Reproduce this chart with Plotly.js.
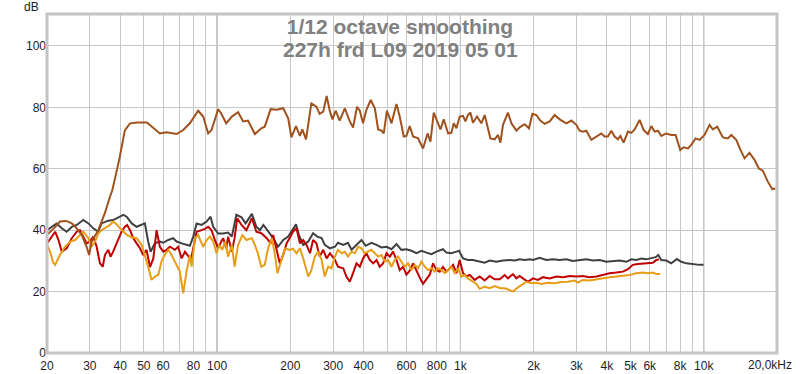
<!DOCTYPE html>
<html>
<head>
<meta charset="utf-8">
<script src="https://cdn.plot.ly/plotly-3.0.1.min.js"></script>
<style>html,body{margin:0;padding:0;background:#fff;}#chart{width:800px;height:374px;}</style>
</head>
<body>
<div id="chart"></div>
<script>
// ---- Data (frequency in Hz, level in dB) ----
const brownFreq = [
  20,21.3,22.6,24.0,25.3,26.5,27.8,29.1,29.8,30.5,
  32.5,34.6,36.3,37.1,39.6,40.5,41.8,43.9,46.9,51.5,
  53.8,58.2,62.0,68.2,72.6,77.3,83.6,87.7,91.9,94.9,
  101,104,109,115,122,128,134,143,152,157,
  166,176,187,196,202,211,219,224,232,244,
  256,264,273,282,291,298,307,319,335,349,
  362,376,386,398,411,428,445,459,474,484,
  499,521,546,563,585,600,619,639,670,692,
  702,733,753,777,802,828,854,890,918,939,
  963,993,1025,1048,1074,1099,1126,1170,1219,1258,
  1328,1383,1427,1460,1496,1568,1620,1698,1752,1837,
  1913,1976,2052,2130,2220,2327,2440,2558,2725,2857,
  2994,3090,3188,3292,3451,3618,3793,3914,4038,4170,
  4302,4439,4541,4685,4880,5039,5199,5451,5660,5893,
  6086,6280,6480,6691,7015,7355,7660,8008,8260,8604,
  8884,9254,9611,10076,10565,10900,11364,11982,12563,12972,
  13601,14124,14712,15417,16166,16840,17489,18334,19120,19720];
const brownDb = [
  38.5,40.5,42.8,43,42.2,40.6,38.4,34.6,31.9,36.3,
  40,45.6,50.9,53,62.9,67.2,72.6,74.8,75.1,75.1,
  73.7,71.5,71.9,71.3,72.6,74.8,78.9,77,71.5,72.6,
  79.4,78,74.8,77,78.4,75.4,75.7,71.3,73.2,73.7,
  79.4,79.2,79.7,76.4,70.2,73.9,70.7,72.8,69.6,81.3,
  80.2,77.9,78.6,83.7,78.6,76.1,78.9,75.7,79.7,75.9,
  73.4,80.2,78.9,74.8,79.2,82.4,79.7,72.8,72.4,71.5,
  78.9,74.8,81.1,77,70.5,70.7,73.9,70.5,69.9,67.2,
  66.6,71.5,68.8,78.3,75.4,72.8,76.1,71.5,71.7,74.8,
  73.2,77,77.2,75.4,77.5,78.3,75,77,74.8,77.5,
  69.9,69.6,71,68.5,74.3,78.3,74.8,72.4,73.5,74.5,
  73.2,77.9,77.5,75.7,74.6,75.4,77.5,76.1,74.8,75.7,
  74.3,72.4,72.1,72.4,69.4,70.5,71.5,70.5,70.5,72.4,
  70.5,69.6,70.7,68.5,72.1,71.7,72.8,75.9,72.6,71.3,
  73.9,72.1,72.4,70.7,71.5,71,71,66.1,67,66.6,
  67.8,69.9,69.4,71,74.3,72.8,73.7,70.2,69.9,71,
  69.4,66.3,63.4,65.2,62.9,60.1,59.4,55.8,53.4,53.6];

const grayFreq = [
  20,21.9,23.0,24.1,25.3,26.5,28.2,29.6,31.0,32.5,
  33.5,35.7,37.4,39.3,41.2,42.5,44.6,46.7,49.0,50.5,
  52.1,53.3,55.5,58.2,60.1,63.0,66.0,68.2,71.5,74.9,
  77.3,79.8,82.4,86.4,90.6,94.0,96.4,101,106,111,
  115,120,126,131,139,145,150,155,162,170,
  178,187,196,202,211,217,226,237,248,258,
  269,277,291,305,314,330,345,357,374,392,
  408,431,452,474,497,521,546,572,600,629,
  660,692,725,760,797,848,876,918,963,987,
  1025,1074,1126,1200,1258,1319,1406,1496,1594,1671,
  1752,1837,1926,1987,2117,2255,2400,2558,2725,2900,
  3090,3292,3504,3733,3977,4234,4511,4806,5039,5283,
  5539,5807,6086,6341,6504,6691,7015,7355,7755,8085,
  8477,9023,9611,9980];
const grayDb = [
  40,42.2,40.6,39.5,41.1,41.7,43.3,42.2,40.6,39.5,
  42.2,43.1,43.3,44.2,45,44.4,42.2,41.1,41.7,42.2,
  36.3,33,35.7,36.3,35.9,36.8,37.4,36.3,35.7,35.2,
  34.9,37.9,42.2,41.7,42.8,44.4,41.1,38.9,38.9,39.2,
  37.9,45,44.2,42.2,45.3,41.1,40,41.7,39.5,37.4,
  34.6,36.8,37.9,39.5,41.9,38.4,35.2,36.3,39,37.9,
  37.4,35.2,34.1,34.6,35.9,35.2,35.9,33.6,35.2,36.8,
  34.9,35.9,35.2,34.4,34.6,33.8,35.5,33.6,33.8,33.3,
  32.5,33.3,32.7,32.2,33,33.8,32.7,32.5,33,33.3,
  30.8,30.3,30.3,29.7,29.4,30.1,29.7,30.1,30.3,30.1,
  30.5,30.3,30.5,30.3,31,30.3,30.5,30.3,30.5,30,
  30.3,30.5,30.1,30.3,29.7,30,30.1,29.7,30.5,30.3,
  30.8,30.5,30.8,31.2,31.9,30.3,30.1,29.2,30.6,29.7,
  29.2,28.9,28.7,28.7];

const redFreq = [
  20,20.9,21.6,22.3,23.0,24.1,25.3,26.5,27.3,28.2,
  29.1,30.0,31.0,32.0,33.0,33.9,34.6,35.7,36.5,37.4,
  39.3,40.5,41.8,42.7,43.9,45.2,46.7,48.2,49.7,51.3,
  53.0,54.7,56.4,58.2,60.1,62.0,64.0,67.1,69.2,71.5,
  73.8,76.1,78.1,79.8,82.4,86.4,89.1,91.9,94.9,97.3,
  101,104,106,109,111,115,118,121,126,132,
  139,145,152,160,166,170,176,181,187,193,
  199,205,212,219,226,233,241,248,256,264,
  273,282,291,305,314,330,340,351,362,374,
  386,398,411,424,438,452,466,481,497,513,
  529,546,563,581,600,619,639,660,681,702,
  725,748,772,797,822,848,876,904,933,963,
  993,1025,1059,1092,1145,1200,1258,1319,1383,1450,
  1521,1568,1644,1698,1752,1807,1895,1987,2083,2184,
  2327,2479,2639,2812,2994,3188,3396,3618,3852,4104,
  4372,4655,4880,5114,5362,5622,5893,6180,6383,6543];
const redDb = [
  35.7,37.9,39.5,36.8,33,34.1,37.4,39.5,40,37.9,
  35.7,36.3,37.9,34.6,29.2,28.1,31.9,33.6,31.4,33,
  37.4,39.5,41.1,41.7,40,37.4,35.7,34.1,31.9,33.6,
  28,30.8,40,34.6,33,33.6,34.6,33.6,34.6,30.8,
  33,31.4,30.3,34.1,39.5,40,40.4,41.1,40,37.4,
  34.1,36.3,37.4,34.1,37.9,33,37.4,43.9,41.7,40,
  43.9,39.5,39,37.4,35.7,38.4,33,29.2,32,35.7,
  37.5,39.5,40.6,35.7,36.8,35.2,32.5,36.8,35.7,31.4,
  33.6,30.8,32.5,30.3,28.1,27.6,24.9,23.2,26,29.2,
  28.1,30.8,32.5,30.3,29.2,30.3,28.1,29.2,32.5,31.4,
  33,30.3,27,28.1,25.5,26.8,29.2,26.5,24.5,22.5,
  24,25.5,29.2,27,26.5,28,26.5,27.6,28.7,26,
  30.3,26,25,25.4,23.8,24.9,23.6,25.1,24,24,
  25.4,24.3,25.7,24.3,25.1,24.3,23.2,24.3,23.8,24.7,
  24.3,24.9,24.7,25.1,24.9,25.1,24.7,24.9,25.4,26,
  26.2,26.5,27.3,28.7,29,29.2,29.4,29.4,30.3,30.5];

const orangeFreq = [
  20,20.6,21.2,21.6,22.6,23.7,24.9,26.1,27.3,28.2,
  29.6,30.5,31.5,32.5,33.5,34.6,36.3,37.4,38.9,39.9,
  41.4,42.7,44.6,46.7,49.0,51.0,52.1,53.8,55.5,57.3,
  59.2,61.0,63.0,65.0,68.2,70.3,72.6,74.9,77.3,78.6,
  81.1,83.6,85.8,87.7,90.6,93.4,96.4,99.5,102,105,
  108,111,115,118,122,127,132,139,143,147,
  152,157,162,168,173,177,183,190,199,205,
  212,219,226,233,237,244,252,260,269,277,
  286,295,305,314,325,335,345,357,368,380,
  392,404,417,431,445,459,474,489,504,521,
  537,554,572,591,609,629,649,670,692,714,
  736,760,784,809,836,862,890,918,948,978,
  1010,1042,1074,1110,1164,1200,1258,1319,1383,1450,
  1521,1594,1644,1724,1780,1867,1957,2052,2151,2290,
  2440,2599,2767,2948,3040,3188,3396,3618,3852,4104,
  4372,4655,4960,5283,5622,5893,6180,6383,6628];
const orangeDb = [
  35.2,33,29.5,28.7,31.9,34.6,36.3,36.8,38.4,39.5,
  37.4,34.6,36.3,38.9,40,40.6,41.7,42.8,41.7,40.6,
  39.5,38.4,37.7,37.4,35.2,30.8,28.1,23.8,24.9,25.4,
  30,32,33.6,31.9,28.5,26.5,19.4,26.5,31.9,28.1,
  37.4,38.4,36.3,34.6,36.8,37.9,36.3,32.5,35.2,33.6,
  36.3,31.4,35.2,28.1,35.2,38.4,36.8,37.4,35.2,32.5,
  28.1,28.7,34.1,37.4,31.9,26,29.7,34.1,33.6,34,
  32.5,34.1,30.8,27,24.9,27,31.4,33,30.3,24.9,
  28.1,27.6,31.4,33.6,32.5,33,31.4,33,32.5,34.6,
  34.1,32.5,33,33.6,32.5,31.4,31.9,29.7,30.3,28.1,
  30.3,31.4,29.7,28.1,29.2,27,28.7,27.6,29.7,28.1,
  27,27.6,26.5,27.6,27,26,27,28.1,26,27.6,
  24.9,25.4,24.3,23.6,22.5,20.9,21.6,21.1,21.8,21.2,
  21.1,20.5,20,21.4,22.1,23.2,22.7,22.9,22.5,22.9,
  22.7,23.1,23.2,23.6,22.9,23.8,23.6,24,24.3,24.7,
  24.9,25.1,25.4,26,26.2,26,26.2,25.7,25.7];

// ---- Axis ticks ----
const xGridVals = [20,30,40,50,60,70,80,90,100,200,300,400,500,600,700,800,900,1000,
  2000,3000,4000,5000,6000,7000,8000,9000,10000,20000];
const xTickText = ['20','30','40','50','60','','80','','100','200','300','400','','600','','800','','1k',
  '2k','3k','4k','5k','6k','','8k','','10k',''];
const decadeLines = [100,1000,10000];
const yTickVals = [0,20,40,60,80,100];
const titleLine1 = '1/12 octave smoothing';
const titleLine2 = '227h frd L09 2019 05 01';

const FONT = 'Liberation Sans, Arial, sans-serif';
function tr(x, y, color) {
  return {x: x, y: y, type: 'scatter', mode: 'lines', hoverinfo: 'skip',
          line: {color: color, width: 2}, showlegend: false};
}
const traces = [
  tr(grayFreq, grayDb, '#404040'),
  tr(redFreq, redDb, '#c00000'),
  tr(orangeFreq, orangeDb, '#e89d17'),
  tr(brownFreq, brownDb, '#a0521e')
];

const shapes = decadeLines.map(v => ({type: 'line', xref: 'x', yref: 'paper', x0: v, x1: v, y0: 0, y1: 1,
  layer: 'below', line: {color: '#7c7c7c', width: 1}}));
shapes.push({type: 'rect', xref: 'paper', yref: 'paper', x0: 0, x1: 1, y0: 0, y1: 1,
  line: {color: '#c4c4c4', width: 3}});

const layout = {
  width: 800, height: 374,
  margin: {l: 47, r: 23, t: 14, b: 21},
  paper_bgcolor: '#ffffff', plot_bgcolor: '#ffffff',
  font: {family: FONT, size: 12, color: '#1e1e1e'},
  title: {text: '<b>' + titleLine1 + '</b>', x: 0.5, xref: 'container', xanchor: 'center',
          y: 1 - 27/374, yref: 'container', yanchor: 'middle',
          font: {family: FONT, size: 21, color: '#808080'}},
  xaxis: {type: 'log', range: [Math.log10(20), Math.log10(20000)], tickvals: xGridVals, ticktext: xTickText,
          showgrid: true, gridcolor: '#c8c8c8', gridwidth: 1, zeroline: false, showline: false,
          ticks: '', ticklabelstandoff: 4, tickfont: {family: FONT, size: 12, color: '#1e1e1e'}, fixedrange: true},
  yaxis: {range: [0, 110.4], tickvals: yTickVals, showgrid: true, gridcolor: '#c8c8c8', gridwidth: 1,
          zeroline: false, showline: false, ticks: '', tickfont: {family: FONT, size: 12, color: '#1e1e1e'},
          fixedrange: true},
  shapes: shapes,
  annotations: [
    {text: '<b>' + titleLine2 + '</b>', xref: 'paper', yref: 'paper', x: (400 - 47) / 730, y: (353 - 49) / 339,
     xanchor: 'center', yanchor: 'middle', showarrow: false, font: {family: FONT, size: 21, color: '#808080'}},
    {text: 'dB', xref: 'paper', yref: 'paper', x: 0, y: 1, xanchor: 'right', yanchor: 'middle', xshift: -6, yshift: 7,
     showarrow: false, font: {family: FONT, size: 12, color: '#1e1e1e'}},
    {text: '20,0kHz', xref: 'paper', yref: 'paper', x: 1, y: 0, xanchor: 'right', yanchor: 'top', xshift: 17, yshift: -3,
     showarrow: false, font: {family: FONT, size: 12, color: '#1e1e1e'}}
  ]
};
Plotly.newPlot('chart', traces, layout, {displayModeBar: false, staticPlot: true});
</script>
</body>
</html>
